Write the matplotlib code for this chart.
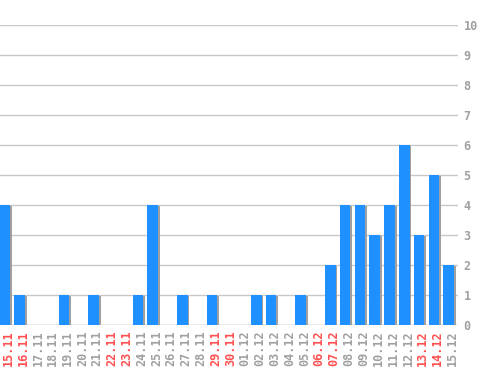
import matplotlib
matplotlib.use("Agg")
import matplotlib.pyplot as plt
import matplotlib.patheffects as pe

# dates and counts
dates = ["15.11", "16.11", "17.11", "18.11", "19.11", "20.11", "21.11", "22.11",
         "23.11", "24.11", "25.11", "26.11", "27.11", "28.11", "29.11", "30.11",
         "01.12", "02.12", "03.12", "04.12", "05.12", "06.12", "07.12", "08.12",
         "09.12", "10.12", "11.12", "12.12", "13.12", "14.12", "15.12"]
counts = [4, 1, 0, 0, 1, 0, 1, 0, 0, 1, 4, 0, 1, 0, 1, 0,
          0, 1, 1, 0, 1, 0, 2, 4, 4, 3, 4, 6, 3, 5, 2]
weekend = ["15.11", "16.11", "22.11", "23.11", "29.11", "30.11",
           "06.12", "07.12", "13.12", "14.12"]
yticks = list(range(0, 11))

fig = plt.figure(figsize=(4.98, 3.70), dpi=100)
ax = fig.add_axes([0, 1 - 325 / 370, 458 / 498, 300 / 370])

x = list(range(len(dates)))
bars = ax.bar(x, counts, width=0.72, color="#1e90ff", zorder=3)
for b in bars:
    b.set_path_effects([pe.SimplePatchShadow(offset=(1.3, -0.9), shadow_rgbFace="#a0a0a0", alpha=1.0),
                        pe.Normal()])

ax.set_xlim(-0.32, 30.63)
ax.set_ylim(0, 10)
ax.set_yticks(yticks)
ax.yaxis.tick_right()
ax.grid(axis="y", color="#c8c8c8", linewidth=1, zorder=0)
for s in ax.spines.values():
    s.set_visible(False)
ax.axhline(0, color="#c8c8c8", linewidth=1, zorder=1)

# labels sit a little right of the bar centres
ax.set_xticks([i + 0.25 for i in x])
ax.set_xticklabels(dates, rotation=90, family="DejaVu Sans Mono", fontsize=8.5, fontweight="bold")
for lab in ax.get_xticklabels():
    lab.set_color("#ff5050" if lab.get_text() in weekend else "#a0a0a0")
for lab in ax.get_yticklabels():
    lab.set_family("DejaVu Sans Mono")
    lab.set_fontsize(8.5)
    lab.set_fontweight("bold")
    lab.set_color("#a0a0a0")
ax.tick_params(axis="both", length=0)
ax.tick_params(axis="x", pad=4)
ax.tick_params(axis="y", pad=4)

fig.savefig("out.png", dpi=100)
